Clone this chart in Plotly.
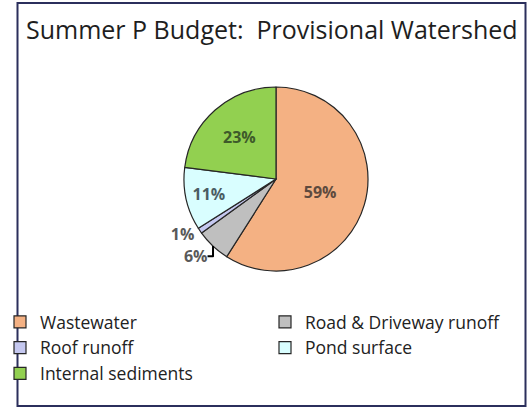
import plotly.graph_objects as go

categories = ["Wastewater", "Road & Driveway runoff", "Roof runoff", "Pond surface", "Internal sediments"]
values = [59, 6, 1, 11, 23]
colors = ["#F4B183", "#BFBFBF", "#C5C8F0", "#D9FEFF", "#92D050"]
text_colors = ["#5E4A3E", "#595959", "#595959", "#4B5D63", "#3E5A2A"]
text_positions = ["inside", "outside", "outside", "inside", "inside"]
title_text = "Summer P Budget:\u00a0\u00a0Provisional Watershed"

W, H = 529, 408
cx, cy, r = 276, 179, 92

fig = go.Figure(go.Pie(
    labels=categories,
    values=values,
    sort=False,
    direction="clockwise",
    rotation=0,
    marker=dict(colors=colors, line=dict(color="#262626", width=1.2)),
    texttemplate="%{percent:.0%}",
    textposition=text_positions,
    insidetextorientation="horizontal",
    textfont=dict(family="Open Sans", size=16, color=text_colors, weight="bold"),
    domain=dict(x=[(cx - r) / W, (cx + r) / W], y=[(H - cy - r) / H, (H - cy + r) / H]),
    hoverinfo="label+percent",
))

fig.update_layout(
    width=W, height=H,
    margin=dict(l=0, r=0, t=0, b=0, autoexpand=False),
    paper_bgcolor="white",
    plot_bgcolor="white",
    title=dict(text=title_text, x=26 / W, xanchor="left", xref="paper",
               y=1 - 30 / H, yref="container", yanchor="middle",
               font=dict(family="Open Sans", size=25, color="#1E1E1E")),
    showlegend=True,
    legend=dict(orientation="h", x=0.0, xanchor="left", y=1 - 304 / H, yanchor="top",
                entrywidth=220, bgcolor="rgba(0,0,0,0)",
                font=dict(family="Open Sans", size=17.5, color="#222222"),
                itemwidth=30),
    shapes=[dict(type="rect", xref="paper", yref="paper",
                 x0=17.5 / W, x1=525.5 / W, y0=1 - 406 / H, y1=1 - 3 / H,
                 line=dict(color="#2B2F5C", width=2), fillcolor="rgba(0,0,0,0)")],
)

fig.write_html("out.html", config=dict(displayModeBar=False),
               post_script="document.body.style.margin='0';document.body.style.padding='0';")
